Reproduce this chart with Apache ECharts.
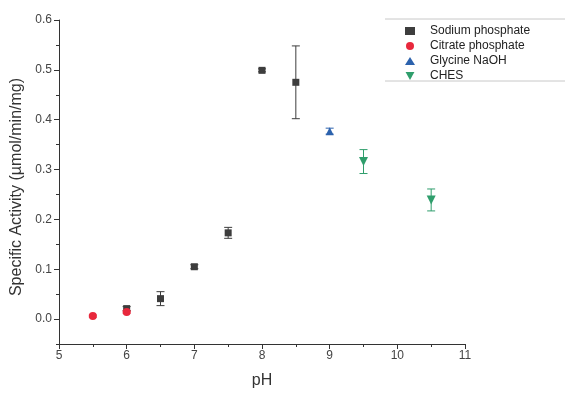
<!DOCTYPE html>
<html>
<head>
<meta charset="utf-8">
<script src="https://cdn.jsdelivr.net/npm/echarts@6/dist/echarts.min.js"></script>
<style>
  html, body { margin: 0; padding: 0; background: #fff; }
  #chart { width: 565px; height: 394px; }
</style>
</head>
<body>
<div id="chart"></div>
<script>
// Specific activity vs pH for four buffer systems (mean ± error)
const phSodium = [6, 6.5, 7, 7.5, 8, 8.5];
const actSodium = [0.021, 0.041, 0.105, 0.173, 0.499, 0.475];
const errSodium = [0.004, 0.014, 0.004, 0.011, 0.003, 0.073];

const phCitrate = [5.5, 6];
const actCitrate = [0.006, 0.014];
const errCitrate = [0.002, 0.002];

const phGlycine = [9];
const actGlycine = [0.377];
const errGlycine = [0.006];

const phChes = [9.5, 10.5];
const actChes = [0.316, 0.239];
const errChes = [0.024, 0.022];

const yMajorTicks = [0, 0.1, 0.2, 0.3, 0.4, 0.5, 0.6];
const yMinorTicks = [-0.05, 0.05, 0.15, 0.25, 0.35, 0.45, 0.55];

const FONT = '"Liberation Sans", Arial, sans-serif';
const downTriangle = 'path://M0,0 L10,0 L5,9 Z';

const groups = [
  { name: 'Sodium phosphate', ph: phSodium, act: actSodium, err: errSodium, color: '#3d3d3d', symbol: 'rect', size: 7 },
  { name: 'Citrate phosphate', ph: phCitrate, act: actCitrate, err: errCitrate, color: '#e8283c', symbol: 'circle', size: 8 },
  { name: 'Glycine NaOH', ph: phGlycine, act: actGlycine, err: errGlycine, color: '#2c62ad', symbol: 'triangle', size: 8 },
  { name: 'CHES', ph: phChes, act: actChes, err: errChes, color: '#2f9e6c', symbol: downTriangle, size: 9 }
];

function errorBarSeries(g) {
  return {
    type: 'custom',
    z: 1,
    silent: true,
    data: g.ph.map((x, i) => [x, g.act[i] - g.err[i], g.act[i] + g.err[i]]),
    renderItem: function (params, api) {
      const lo = api.coord([api.value(0), api.value(1)]);
      const hi = api.coord([api.value(0), api.value(2)]);
      const cap = 4;
      const style = { stroke: g.color, lineWidth: 1 };
      return {
        type: 'group',
        children: [
          { type: 'line', shape: { x1: lo[0], y1: lo[1], x2: hi[0], y2: hi[1] }, style: style },
          { type: 'line', shape: { x1: lo[0] - cap, y1: lo[1], x2: lo[0] + cap, y2: lo[1] }, style: style },
          { type: 'line', shape: { x1: hi[0] - cap, y1: hi[1], x2: hi[0] + cap, y2: hi[1] }, style: style }
        ]
      };
    }
  };
}

function scatterSeries(g) {
  return {
    name: g.name,
    type: 'scatter',
    z: 3,
    symbol: g.symbol,
    symbolSize: g.size,
    itemStyle: { color: g.color, opacity: 1 },
    data: g.ph.map((x, i) => [x, g.act[i]])
  };
}

const series = [];
groups.forEach(g => series.push(errorBarSeries(g)));
groups.forEach(g => series.push(scatterSeries(g)));

const chart = echarts.init(document.getElementById('chart'), null, { renderer: 'canvas' });
chart.setOption({
  animation: false,
  backgroundColor: '#ffffff',
  textStyle: { fontFamily: FONT },
  grid: { left: 59, right: 100, top: 20, bottom: 50 },
  legend: {
    orient: 'vertical',
    left: 400,
    top: 20,
    itemWidth: 10,
    itemHeight: 8,
    itemGap: 3,
    data: groups.map(g => ({ name: g.name, icon: g.symbol })),
    textStyle: { fontFamily: FONT, fontSize: 12, color: '#222', padding: [0, 0, 0, 10] }
  },
  graphic: [
    { type: 'line', shape: { x1: 385, y1: 19, x2: 565, y2: 19 }, style: { stroke: '#c8c8c8', lineWidth: 1 } },
    { type: 'line', shape: { x1: 385, y1: 81, x2: 565, y2: 81 }, style: { stroke: '#c8c8c8', lineWidth: 1 } }
  ],
  xAxis: {
    type: 'value',
    min: 5,
    max: 11,
    interval: 1,
    name: 'pH',
    nameLocation: 'middle',
    nameGap: 29,
    nameTextStyle: { fontFamily: FONT, fontSize: 16, color: '#333' },
    axisLine: { onZero: false, lineStyle: { color: '#333', width: 1 } },
    axisTick: { length: 5, lineStyle: { color: '#333' } },
    minorTick: { show: true, splitNumber: 2, length: 3, lineStyle: { color: '#333' } },
    splitLine: { show: false },
    axisLabel: { fontFamily: FONT, fontSize: 12, color: '#444', margin: 6 }
  },
  yAxis: [
    {
      type: 'value',
      min: -0.05,
      max: 0.6,
      interval: 0.05,
      name: 'Specific Activity (\u00b5mol/min/mg)',
      nameLocation: 'middle',
      nameGap: 33,
      nameTextStyle: { fontFamily: FONT, fontSize: 16, color: '#333', padding: [0, 10, 0, 0] },
      axisLine: { show: true, onZero: false, lineStyle: { color: '#333', width: 1 } },
      axisTick: { show: true, length: 5, customValues: yMajorTicks, lineStyle: { color: '#333' } },
      splitLine: { show: false },
      axisLabel: {
        fontFamily: FONT, fontSize: 12, color: '#444', margin: 7,
        customValues: yMajorTicks,
        formatter: v => v.toFixed(1)
      }
    },
    {
      type: 'value',
      min: -0.05,
      max: 0.6,
      interval: 0.05,
      position: 'left',
      axisLine: { show: false },
      axisTick: { show: true, length: 3, customValues: yMinorTicks, lineStyle: { color: '#333' } },
      axisLabel: { show: false },
      splitLine: { show: false }
    }
  ],
  series: series
});
</script>
</body>
</html>
